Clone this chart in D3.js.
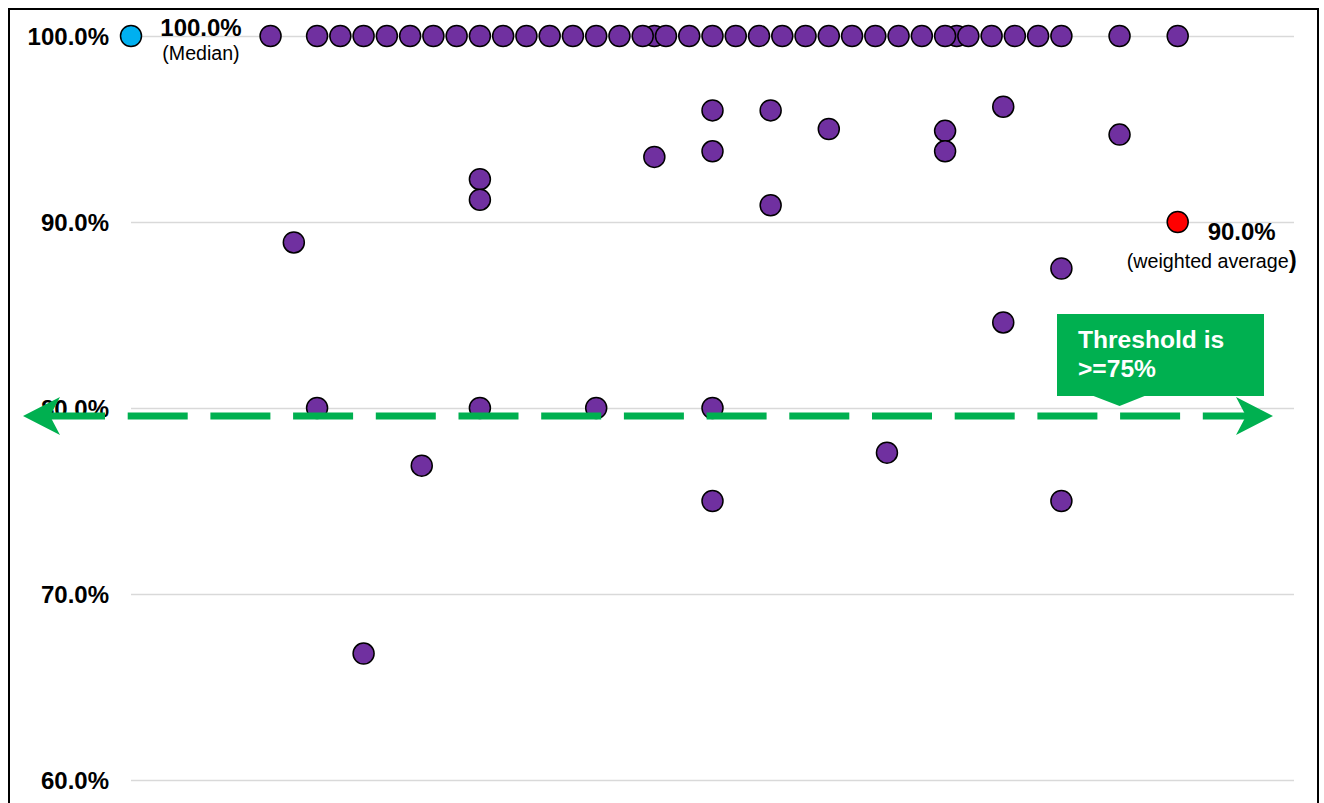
<!DOCTYPE html>
<html>
<head>
<meta charset="utf-8">
<script src="https://cdn.jsdelivr.net/npm/d3@7"></script>
<style>
  body { margin: 0; background: #fff; }
  svg { display: block; font-family: Arial, 'Liberation Sans', sans-serif; }
</style>
</head>
<body>
<div id="chart"></div>
<script>
// entities at 100% (the two half-step ones first so they sit behind their neighbours)
const fullScoreX = [22.5, 35.5, 6, 8, 9, 10, 11, 12, 13, 14, 15, 16, 17, 18, 19, 20, 21, 22,
    23, 24, 25, 26, 27, 28, 29, 30, 31, 32, 33, 34, 35, 36, 37, 38, 39, 40, 42.5, 45];
const fullScoreValue = 100;

// entities below 100%
const otherX = [7, 8, 10, 12.5, 15, 15, 15, 20, 22.5, 25, 25, 25, 25, 27.5, 27.5, 30,
    32.5, 35, 35, 37.5, 37.5, 40, 40, 42.5];
const otherValues = [88.9, 80.0, 66.8, 76.9, 92.3, 91.2, 80.0, 80.0, 93.5, 96.0, 93.8, 80.0, 75.0,
    96.0, 90.9, 95.0, 77.6, 94.9, 93.8, 96.2, 84.6, 87.5, 75.0, 94.7];

// summary points: median and weighted average
const summaryX = [0, 45];
const summaryValues = [100, 90];
const summaryNotes = ['(Median)', '(weighted average'];

const yTicks = [60, 70, 80, 90, 100];
const thresholdText = ['Threshold is', '>=75%'];

const W = 1324, H = 803;
const svg = d3.select('#chart').append('svg')
    .attr('width', W)
    .attr('height', H);

const x = d3.scaleLinear().domain([0, 50]).range([131, 1294]);
const y = d3.scaleLinear().domain([60, 100]).range([780, 36]);
const fmt = d => d3.format('.1f')(d) + '%';

// outer frame (bottom runs off the picture)
svg.append('rect')
    .attr('x', 9).attr('y', 9)
    .attr('width', 1309).attr('height', 830)
    .attr('fill', 'none')
    .attr('stroke', '#000')
    .attr('stroke-width', 2);

// y axis with gridlines
const yAxis = svg.append('g')
    .attr('transform', `translate(${x(0)},0)`)
    .call(d3.axisLeft(y)
        .tickValues(yTicks)
        .tickSizeInner(-(x(50) - x(0)))
        .tickSizeOuter(0)
        .tickPadding(22)
        .tickFormat(fmt));
yAxis.select('.domain').remove();
yAxis.selectAll('.tick line')
    .attr('stroke', '#d9d9d9')
    .attr('stroke-width', 1.5);
yAxis.selectAll('.tick text')
    .attr('fill', '#000')
    .attr('font-size', 24)
    .attr('font-weight', 'bold')
    .attr('font-family', "Arial, 'Liberation Sans', sans-serif")
    .attr('dy', '0.35em');

// dots
const purple = '#7030A0';
svg.append('g').selectAll('circle.full')
    .data(fullScoreX)
    .join('circle')
    .attr('class', 'full')
    .attr('cx', d => x(d))
    .attr('cy', y(fullScoreValue))
    .attr('r', 10.5)
    .attr('fill', purple)
    .attr('stroke', '#000')
    .attr('stroke-width', 1.5);

svg.append('g').selectAll('circle.other')
    .data(otherX)
    .join('circle')
    .attr('class', 'other')
    .attr('cx', d => x(d))
    .attr('cy', (d, i) => y(otherValues[i]))
    .attr('r', 10.5)
    .attr('fill', purple)
    .attr('stroke', '#000')
    .attr('stroke-width', 1.5);

// threshold arrow, sits just under the 80% gridline
const green = '#00B050';
const lineY = y(80) + 8;
const leftTip = 23, rightTip = 1273;
svg.append('line')
    .attr('x1', 45).attr('x2', rightTip - 20)
    .attr('y1', lineY).attr('y2', lineY)
    .attr('stroke', green)
    .attr('stroke-width', 7)
    .attr('stroke-dasharray', '60,22.7');
svg.append('path')
    .attr('d', `M${leftTip},${lineY} L${leftTip + 37},${lineY - 19} L${leftTip + 27},${lineY} L${leftTip + 37},${lineY + 19} Z`)
    .attr('fill', green);
svg.append('path')
    .attr('d', `M${rightTip},${lineY} L${rightTip - 37},${lineY - 19} L${rightTip - 27},${lineY} L${rightTip - 37},${lineY + 19} Z`)
    .attr('fill', green);

// threshold callout
const box = { left: 1057, top: 314, right: 1264, bottom: 396 };
const tipX = x(42.5);
svg.append('path')
    .attr('d', `M${box.left},${box.top} H${box.right} V${box.bottom} H${tipX + 25} L${tipX},${box.bottom + 10} L${tipX - 26},${box.bottom} H${box.left} Z`)
    .attr('fill', green);
svg.append('text')
    .attr('x', 1078)
    .attr('y', 348)
    .attr('fill', '#fff')
    .attr('font-size', 24.6)
    .attr('font-weight', 'bold')
    .selectAll('tspan')
    .data(thresholdText)
    .join('tspan')
    .attr('x', 1078)
    .attr('dy', (d, i) => i === 0 ? 0 : 29)
    .text(d => d);

// summary points
const summaryFill = ['#00B0F0', '#FF0000'];
svg.append('g').selectAll('circle')
    .data(summaryX)
    .join('circle')
    .attr('cx', d => x(d))
    .attr('cy', (d, i) => y(summaryValues[i]))
    .attr('r', 10.5)
    .attr('fill', (d, i) => summaryFill[i])
    .attr('stroke', '#000')
    .attr('stroke-width', 1.5);

// median label
const mx = x(summaryX[0]) + 70, my = y(summaryValues[0]);
svg.append('text')
    .attr('x', mx).attr('y', my)
    .attr('text-anchor', 'middle')
    .attr('font-size', 24).attr('font-weight', 'bold')
    .text(fmt(summaryValues[0]));
svg.append('text')
    .attr('x', mx).attr('y', my + 24)
    .attr('text-anchor', 'middle')
    .attr('font-size', 19.6)
    .text(summaryNotes[0]);

// weighted average label
const wx = x(summaryX[1]), wy = y(summaryValues[1]);
svg.append('text')
    .attr('x', wx + 98).attr('y', wy + 18)
    .attr('text-anchor', 'end')
    .attr('font-size', 24).attr('font-weight', 'bold')
    .text(fmt(summaryValues[1]));
const note = svg.append('text')
    .attr('x', wx + 119).attr('y', wy + 46)
    .attr('text-anchor', 'end')
    .attr('font-size', 19.7);
note.append('tspan').text(summaryNotes[1]);
note.append('tspan').attr('font-size', 24).attr('font-weight', 'bold').text(')');
</script>
</body>
</html>
